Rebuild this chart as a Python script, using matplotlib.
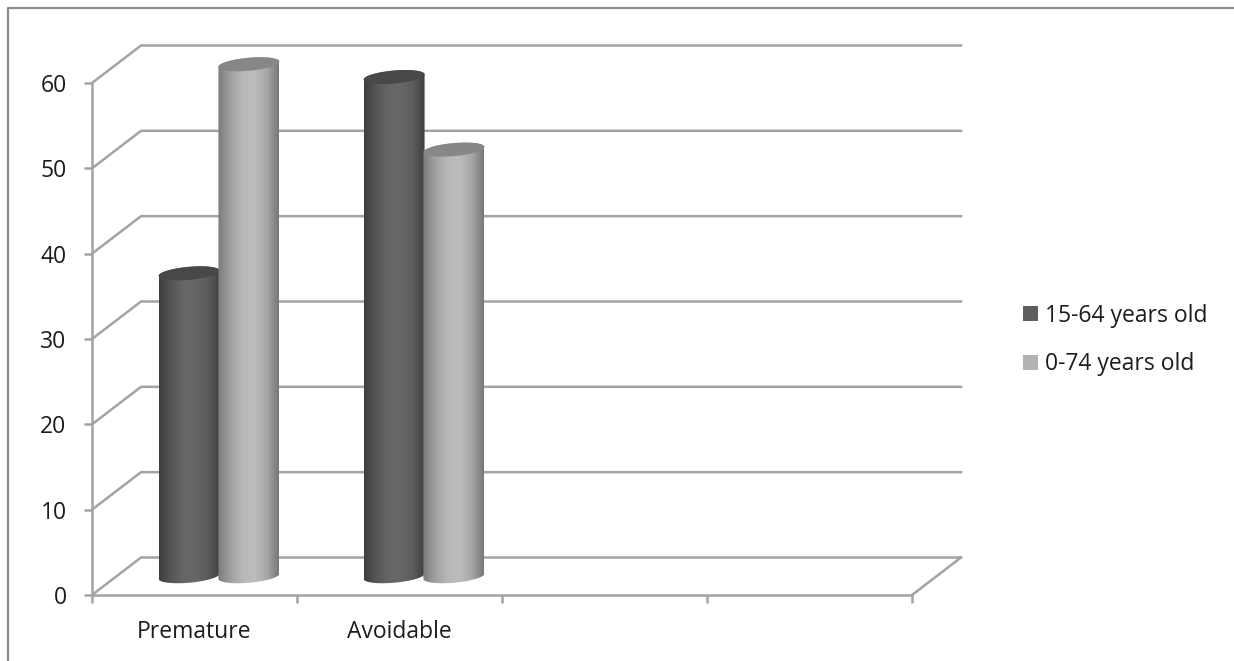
import numpy as np
import matplotlib
matplotlib.use('Agg')
import matplotlib.pyplot as plt
from matplotlib.colors import LinearSegmentedColormap
from matplotlib.patches import Patch, Polygon

W, H = 1234, 661

categories = ['Premature', 'Avoidable']
young = [35.5, 58.5]      # 15-64 years old
older = [60, 50]          # 0-74 years old
series_names = ['15-64 years old', '0-74 years old']
y_ticks = [0, 10, 20, 30, 40, 50, 60]
n_slots = 4

GRID = '#a3a3a3'
TEXT = '#1c1c1c'
# side to side shading of the cylinders
DARK_SHADE = ['#3e3e3e', '#565656', '#666666', '#676767', '#5c5c5c', '#404040']
LIGHT_SHADE = ['#7c7c7c', '#a0a0a0', '#b8b8b8', '#bcbcbc', '#a8a8a8', '#777777']
DARK_TOP = '#484848'
LIGHT_TOP = '#878787'

plt.rcParams['font.family'] = ['Open Sans', 'DejaVu Sans']
plt.rcParams['font.size'] = 16.5

fig = plt.figure(figsize=(W / 100, H / 100), dpi=100)
ax = fig.add_axes([92 / W, 1 - 595 / H, 820 / W, 512 / H])
ax.patch.set_alpha(0)

# depth of the fake 3d box, in data units
depth_x = 49 / 205
depth_y = 37.5 / (512 / 60)

for s in ['top', 'right']:
    ax.spines[s].set_visible(False)
for s in ['left', 'bottom']:
    ax.spines[s].set_color(GRID)
    ax.spines[s].set_linewidth(1.8)

ax.set_yticks(y_ticks)
ax.set_xticks(range(n_slots + 1))
ax.set_xticklabels([])
ax.tick_params(axis='both', color=GRID, width=1.8, length=6, labelcolor=TEXT)
ax.tick_params(axis='y', pad=12.3)

for i, c in enumerate(categories):
    ax.text(i + 0.5, -4.3, c, ha='center', va='center', color=TEXT)

# back wall lines and the slanted lines joining them to the axis
for v in y_ticks:
    ax.plot([0, depth_x, n_slots + depth_x], [v, v + depth_y, v + depth_y],
            color=GRID, lw=1.8, clip_on=False, zorder=1, solid_joinstyle='miter')
ax.plot([n_slots, n_slots + depth_x], [0, depth_y], color=GRID, lw=1.8, clip_on=False, zorder=1)


def cylinder(center, value, shades, top_color, z):
    half_w = 30.5 / 205
    minor = 6.5 / (512 / 60)
    tilt = 2.6 / (512 / 60)
    cx = center + depth_x / 2
    base = depth_y / 2
    t = np.linspace(0, np.pi, 60)
    # lower half of the base ellipse, then back along the upper half of the top
    bx = cx + half_w * np.cos(t + np.pi)
    by = base + minor * np.sin(t + np.pi) + tilt * np.cos(t + np.pi)
    tx = cx + half_w * np.cos(t)
    ty = value + base + minor * np.sin(t) + tilt * np.cos(t)
    outline = Polygon(np.column_stack([np.r_[bx, tx], np.r_[by, ty]]), closed=True,
                      transform=ax.transData, fc='none', ec='none', clip_on=False)
    ax.add_patch(outline)
    cmap = LinearSegmentedColormap.from_list('shade', shades)
    img = ax.imshow(np.linspace(0, 1, 128).reshape(1, -1), cmap=cmap, aspect='auto',
                    extent=[cx - half_w, cx + half_w, -4, 70], zorder=z)
    img.set_clip_box(fig.bbox)
    img.set_clip_path(outline)
    # top face
    a = np.linspace(0, 2 * np.pi, 80)
    ax.fill(cx + half_w * np.cos(a),
            value + base + minor * np.sin(a) + tilt * np.cos(a),
            color=top_color, lw=0, zorder=z + 0.1, clip_on=False)


offset = 0.146
for i in range(len(categories)):
    cylinder(i + 0.5 - offset, young[i], DARK_SHADE, DARK_TOP, 3 + i * 2)
    cylinder(i + 0.5 + offset, older[i], LIGHT_SHADE, LIGHT_TOP, 4 + i * 2)

# imshow resets the limits
ax.set_xlim(0, n_slots)
ax.set_ylim(0, 60)

handles = [Patch(fc='#5f5f5f', ec='none'), Patch(fc='#b2b2b2', ec='none')]
fig.legend(handles, series_names, loc='center left', bbox_to_anchor=(1023 / W, 1 - 340 / H),
           frameon=False, handlelength=0.65, handleheight=0.65, handletextpad=0.3,
           labelspacing=1.09, labelcolor=TEXT, borderpad=0, borderaxespad=0)

# outer chart frame
fig.add_artist(plt.Line2D([8 / W, 8 / W, 1], [0, 1 - 8 / H, 1 - 8 / H], color='#8c8c8c', lw=1.6))

fig.savefig('out.png', dpi=100)
